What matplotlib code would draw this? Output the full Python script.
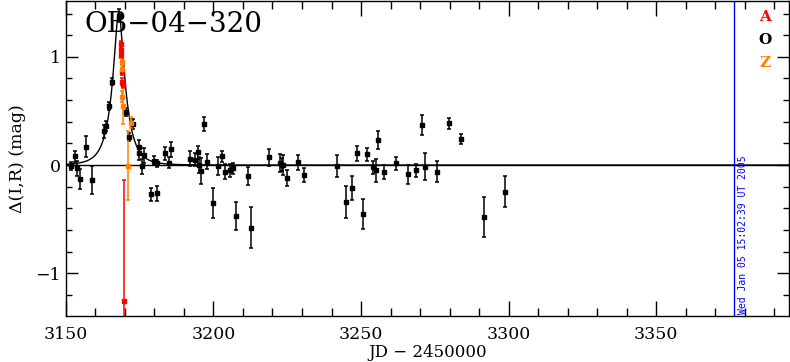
import matplotlib
matplotlib.use('Agg')
import matplotlib.pyplot as plt
from matplotlib.ticker import MultipleLocator
import numpy as np

# --- data (JD - 2450000, delta mag, error) ---
o_t = [3151.6, 3152.9, 3153.8, 3154.7, 3156.7, 3158.7, 3162.8, 3163.7, 3164.7,
       3165.7, 3167.85, 3170.5, 3171.3, 3172.7, 3174.6, 3174.9, 3175.7, 3176.6,
       3178.9, 3179.8, 3180.7, 3180.9, 3183.6, 3184.8, 3185.7, 3192.0, 3193.9,
       3194.8, 3195.2, 3195.6, 3196.7, 3197.8, 3199.8, 3201.6, 3202.9, 3203.8,
       3205.6, 3206.6, 3207.7, 3211.7, 3212.7, 3218.8, 3222.7, 3223.3, 3223.6,
       3224.8, 3228.7, 3230.7, 3241.8, 3244.9, 3246.8, 3248.8, 3250.7, 3251.9,
       3253.9, 3255.0, 3255.8, 3257.8, 3261.8, 3265.9, 3268.8, 3270.7, 3271.7,
       3275.8, 3279.7, 3283.8, 3291.8, 3298.8]
o_mag = [-0.01, 0.08, -0.03, -0.13, 0.17, -0.14, 0.31, 0.36, 0.545,
         0.77, 1.38, 0.49, 0.26, 0.38, 0.17, 0.11, -0.01, 0.09,
         -0.27, 0.04, -0.26, 0.015, 0.11, 0.02, 0.145, 0.06, 0.05,
         0.12, 0.0, -0.055, 0.38, 0.03, -0.35, -0.01, 0.08, -0.06,
         -0.05, -0.03, -0.47, -0.10, -0.58, 0.07, 0.02, 0.005, 0.0,
         -0.12, 0.025, -0.09, -0.01, -0.34, -0.215, 0.11, -0.45, 0.10,
         -0.02, -0.05, 0.23, -0.06, 0.015, -0.085, -0.05, 0.37, -0.015,
         -0.06, 0.385, 0.24, -0.48, -0.245]
o_err = [0.04, 0.05, 0.07, 0.09, 0.10, 0.13, 0.06, 0.05, 0.04,
         0.03, 0.06, 0.04, 0.04, 0.05, 0.06, 0.06, 0.07, 0.07,
         0.06, 0.04, 0.07, 0.03, 0.06, 0.05, 0.07, 0.07, 0.06,
         0.06, 0.07, 0.12, 0.065, 0.07, 0.135, 0.08, 0.05, 0.07,
         0.06, 0.05, 0.13, 0.08, 0.19, 0.08, 0.08, 0.06, 0.09,
         0.07, 0.07, 0.065, 0.10, 0.145, 0.11, 0.07, 0.14, 0.06,
         0.06, 0.11, 0.08, 0.065, 0.06, 0.09, 0.06, 0.09, 0.125,
         0.10, 0.05, 0.045, 0.185, 0.145]

a_t = [3168.5, 3168.6, 3168.7, 3169.0, 3169.1, 3169.4, 3169.75]
a_mag = [1.12, 1.06, 1.02, 0.86, 0.77, 0.74, -1.26]
a_err = [0.03, 0.03, 0.03, 0.03, 0.03, 0.03, 1.12]

z_t = [3168.87, 3168.97, 3169.07, 3169.4, 3171.1, 3171.9]
z_mag = [0.95, 0.89, 0.63, 0.55, -0.005, 0.39]
z_err = [0.03, 0.03, 0.05, 0.17, 0.32, 0.05]

# point-lens model parameters (t0, tE, u0)
t0, tE, u0 = 3167.9, 4.6, 0.28
now_jd = 3376.5
now_label = 'Wed Jan 05 15:02:39 UT 2005'

col_a = '#ff0000'
col_o = '#000000'
col_z = '#ff8000'

plt.rcParams['font.family'] = ['DejaVu Serif']

fig = plt.figure(figsize=(7.9, 3.62), dpi=100)
ax = fig.add_axes([0.0835, 0.127, 0.915, 0.870])

# model curve
tt = np.linspace(3150, 3400, 2000)
uu = np.sqrt(u0**2 + ((tt - t0) / tE)**2)
amp = (uu**2 + 2) / (uu * np.sqrt(uu**2 + 4))
ax.plot(tt, 2.5 * np.log10(amp), color='k', lw=1.0, zorder=1)
ax.axhline(0, color='k', lw=1.0, zorder=1)

for t, m, e, c in [(o_t, o_mag, o_err, col_o), (a_t, a_mag, a_err, col_a),
                   (z_t, z_mag, z_err, col_z)]:
    ax.errorbar(t, m, yerr=e, fmt='s', color=c, ms=2.3, elinewidth=1.1,
                capsize=1.5, capthick=1.1, zorder=3)

ax.axvline(now_jd, color='#0000ff', lw=1.0)
ax.text(now_jd + 1.2, -1.375, now_label, rotation=90, color='#0000ff',
        fontsize=7, family='DejaVu Sans Mono', ha='left', va='bottom')

ax.text(3156.4, 1.30, 'OB\u221204\u2212320', fontsize=20, ha='left', va='center')

ax.text(0.9665, 0.95, 'A', color=col_a, fontsize=11, fontweight='bold',
        transform=ax.transAxes, ha='center', va='center')
ax.text(0.9665, 0.877, 'O', color=col_o, fontsize=11, fontweight='bold',
        transform=ax.transAxes, ha='center', va='center')
ax.text(0.9665, 0.804, 'Z', color=col_z, fontsize=11, fontweight='bold',
        transform=ax.transAxes, ha='center', va='center')

ax.set_xlim(3150, 3395)
ax.set_ylim(-1.395, 1.515)
ax.xaxis.set_major_locator(MultipleLocator(50))
ax.xaxis.set_minor_locator(MultipleLocator(10))
ax.yaxis.set_major_locator(MultipleLocator(1))
ax.yaxis.set_minor_locator(MultipleLocator(0.2))
ax.tick_params(which='both', direction='in', top=True, right=True, width=1.0,
               labelsize=12.5)
ax.tick_params(axis='x', which='major', length=11, pad=7)
ax.tick_params(axis='x', which='minor', length=5.5)
ax.tick_params(axis='y', which='major', length=8.5)
ax.tick_params(axis='y', which='minor', length=4.3)
ax.yaxis.set_major_formatter(plt.FuncFormatter(
    lambda v, p: '{:d}'.format(int(round(v))).replace('-', '\u2212')))
for s in ax.spines.values():
    s.set_linewidth(1.0)

ax.set_xlabel('JD \u2212 2450000', fontsize=12, labelpad=1)
ax.set_ylabel('\u0394(I,R) (mag)', fontsize=12.5, labelpad=7)

fig.savefig('out.png', dpi=100)
